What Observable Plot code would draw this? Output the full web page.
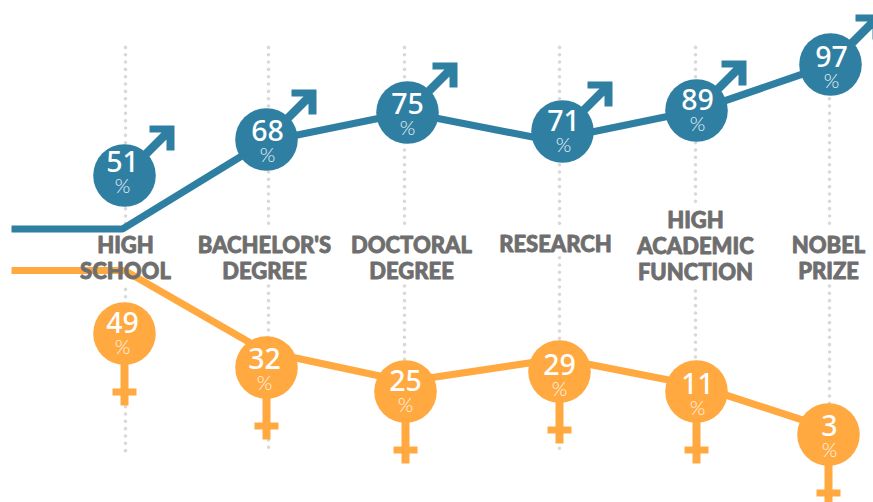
<!DOCTYPE html>
<html>
<head>
<meta charset="utf-8">
<script src="https://cdn.jsdelivr.net/npm/d3@7"></script>
<script src="https://cdn.jsdelivr.net/npm/@observablehq/plot@0.6"></script>
<style>html,body{margin:0;padding:0;background:#fff}svg{display:block}</style>
</head>
<body>
<div id="chart"></div>
<script>
// categories and read-off values
const categories = ["HIGH\nSCHOOL", "BACHELOR'S\nDEGREE", "DOCTORAL\nDEGREE", "RESEARCH", "HIGH\nACADEMIC\nFUNCTION", "NOBEL\nPRIZE"];
const labelX = [125, 264, 411, 555, 695, 828];
const labelTop = [234, 234, 234, 233, 209.5, 234];
const guideX = [125, 268, 404, 559, 695, 829];
const guideGapStart = [224, 224, 224, 224, 202, 224];
const guideResume = [289.4, 286, 286, 257.7, 291, 286];

const maleValues = [51, 68, 75, 71, 89, 97];
const maleDotX = [124, 266, 407, 562, 696, 830];
const maleDotY = [175, 139, 112, 131, 110, 64];
const maleTextX = [122, 267, 407, 563, 697, 831];
const maleTextY = [161, 130, 103, 120, 99, 56];
const maleLineX = [11, 122, 265, 407, 550, 696, 830];
const maleLineY = [228.5, 228.5, 141, 112, 140, 110, 64];

const femaleValues = [49, 32, 25, 29, 11, 3];
const femaleDotX = [124, 266, 405, 559, 696, 828];
const femaleDotY = [333, 367, 391, 371, 391, 434];
const femaleTextX = [122, 264, 405, 559, 697, 829];
const femaleTextY = [322, 358, 380, 364, 383, 425];
const femaleLineX = [11, 124, 265, 405, 559, 696, 828];
const femaleLineY = [270, 270, 351, 381, 358, 385, 428];

const blue = "#2f7fa3";
const orange = "#ffa940";
const gray = "#6e6e6e";

const maleGlyph = {draw(c) {
  c.moveTo(25, -50); c.lineTo(50, -50); c.lineTo(50, -25); c.lineTo(42, -25); c.lineTo(42, -43); c.lineTo(25, -43); c.closePath();
  c.moveTo(-3, -3); c.lineTo(41, -47); c.lineTo(47, -41); c.lineTo(3, 3); c.closePath();
}};
const femaleGlyph = {draw(c) {
  c.moveTo(-4, 0); c.lineTo(4, 0); c.lineTo(4, 55); c.lineTo(12, 55); c.lineTo(12, 62); c.lineTo(4, 62); c.lineTo(4, 72); c.lineTo(-4, 72);
  c.lineTo(-4, 62); c.lineTo(-12, 62); c.lineTo(-12, 55); c.lineTo(-4, 55); c.closePath();
}};

const guides = guideX.flatMap((x, i) => [
  {x, y1: 47.4, y2: guideGapStart[i]},
  {x, y1: guideResume[i], y2: 452}
]);
const pts = (xs, ys) => xs.map((x, i) => ({x, y: ys[i]}));
const labels = categories.map((t, i) => ({t, x: labelX[i], y: labelTop[i]}));
const nums = (vals, xs, ys) => vals.map((v, i) => ({v: String(v), x: xs[i], y: ys[i], py: ys[i] + 25.5}));

const font = "Lato, sans-serif";
const numFont = "'Noto Sans', sans-serif";

const series = [
  {color: blue, lx: maleLineX, ly: maleLineY, dx: maleDotX, dy: maleDotY, glyph: maleGlyph, vals: maleValues, tx: maleTextX, ty: maleTextY, pct: "#eaf3f7"},
  {color: orange, lx: femaleLineX, ly: femaleLineY, dx: femaleDotX, dy: femaleDotY, glyph: femaleGlyph, vals: femaleValues, tx: femaleTextX, ty: femaleTextY, pct: "#fff6ea"}
];

const marks = [
  Plot.ruleX(guides, {x: "x", y1: "y1", y2: "y2", stroke: "#d9d9d9", strokeWidth: 3.6, strokeLinecap: "round", strokeDasharray: "0 7.33"})
];
for (const s of series) {
  marks.push(Plot.line(pts(s.lx, s.ly), {x: "x", y: "y", stroke: s.color, strokeWidth: 7.2, strokeLinecap: "butt", strokeLinejoin: "miter"}));
}
for (const s of series) {
  const c = pts(s.dx, s.dy);
  const n = nums(s.vals, s.tx, s.ty);
  marks.push(
    Plot.dot(c, {x: "x", y: "y", r: 10, symbol: s.glyph, fill: s.color, stroke: "none"}),
    Plot.dot(c, {x: "x", y: "y", r: 31.3, fill: s.color, stroke: "none"}),
    Plot.text(n, {x: "x", y: "y", dy: 1.5, text: "v", fill: "#fff", fontSize: 28.5, fontWeight: 500, fontFamily: numFont, textAnchor: "middle"}),
    Plot.text(n, {x: "x", y: "py", text: () => "%", fill: s.pct, fontSize: 20, fontWeight: 300, fontFamily: font, textAnchor: "middle"})
  );
}
marks.push(Plot.text(labels, {x: "x", y: "y", text: "t", fill: gray, stroke: gray, strokeWidth: 0.8, fontSize: 22, fontWeight: 900, fontFamily: font, lineHeight: 1.17, lineAnchor: "top", textAnchor: "middle"}));

const chart = Plot.plot({
  width: 873, height: 502, margin: 0,
  x: {domain: [0, 873], range: [0, 873], axis: null},
  y: {domain: [0, 502], range: [0, 502], axis: null},
  style: {background: "#fff"},
  marks
});
document.getElementById("chart").append(chart);
</script>
</body>
</html>
